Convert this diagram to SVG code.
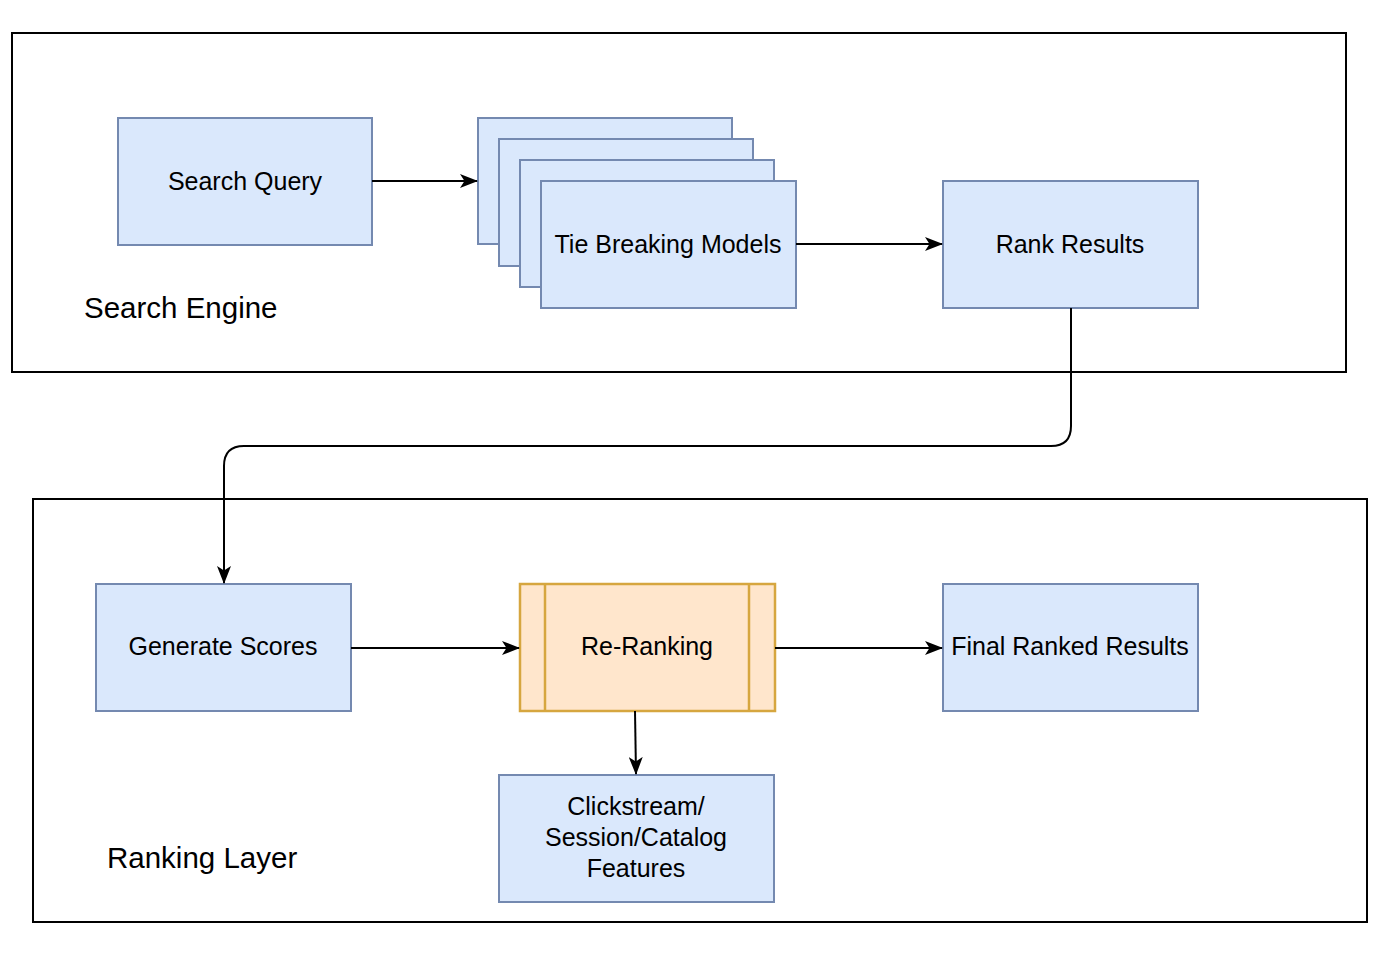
<svg xmlns="http://www.w3.org/2000/svg" width="1400" height="953" viewBox="0 0 1400 953">
<defs>
<marker id="arr" viewBox="0 0 18 14" refX="17" refY="7" markerWidth="18" markerHeight="14" markerUnits="userSpaceOnUse" orient="auto">
<path d="M0,0 L18,7 L0,14 L4.5,7 z" fill="#000"/>
</marker>
<style>
.cont{fill:#fff;stroke:#000;stroke-width:2}
.node{fill:#dae8fc;stroke:#7489b0;stroke-width:2}
.orange{fill:#ffe6cc;stroke:#d6a63f;stroke-width:2.5}
.t{font-family:"Liberation Sans",Arial,sans-serif;font-size:25px;fill:#000;text-anchor:middle}
.lbl{font-family:"Liberation Sans",Arial,sans-serif;font-size:29.5px;fill:#000}
.edge{fill:none;stroke:#000;stroke-width:2;marker-end:url(#arr)}
</style>
</defs>
<rect width="1400" height="953" fill="#fff"/>
<g id="search-engine">
<rect class="cont" x="12" y="33" width="1334" height="339"/>
<text class="lbl" x="84" y="318">Search Engine</text>
</g>
<g id="ranking-layer">
<rect class="cont" x="33" y="499" width="1334" height="423"/>
<text class="lbl" x="107" y="868">Ranking Layer</text>
</g>
<g id="search-query">
<rect class="node" x="118" y="118" width="254" height="127"/>
<text class="t" x="245" y="190">Search Query</text>
</g>
<g id="tie-breaking-models">
<rect class="node" x="478" y="118" width="254" height="126"/>
<rect class="node" x="499" y="139" width="254" height="127"/>
<rect class="node" x="520" y="160" width="254" height="127"/>
<rect class="node" x="541" y="181" width="255" height="127"/>
<text class="t" x="668" y="253">Tie Breaking Models</text>
</g>
<g id="rank-results">
<rect class="node" x="943" y="181" width="255" height="127"/>
<text class="t" x="1070" y="253">Rank Results</text>
</g>
<g id="generate-scores">
<rect class="node" x="96" y="584" width="255" height="127"/>
<text class="t" x="223" y="655">Generate Scores</text>
</g>
<g id="re-ranking">
<rect class="orange" x="520" y="584" width="255" height="127"/>
<line class="orange" x1="545" y1="584" x2="545" y2="711"/>
<line class="orange" x1="749" y1="584" x2="749" y2="711"/>
<text class="t" x="647" y="655">Re-Ranking</text>
</g>
<g id="final-ranked-results">
<rect class="node" x="943" y="584" width="255" height="127"/>
<text class="t" x="1070" y="655">Final Ranked Results</text>
</g>
<g id="features">
<rect class="node" x="499" y="775" width="275" height="127"/>
<text class="t" x="636" y="815">Clickstream/</text>
<text class="t" x="636" y="846">Session/Catalog</text>
<text class="t" x="636" y="877">Features</text>
</g>
<g id="connectors">
<path class="edge" d="M372,181 H477"/>
<path class="edge" d="M796,244 H942"/>
<path class="edge" d="M1071,308 V426 Q1071,446 1051,446 H244 Q224,446 224,466 V583"/>
<path class="edge" d="M351,648 H519"/>
<path class="edge" d="M775,648 H942"/>
<path class="edge" d="M635,711 L636,774"/>
</g>
</svg>
